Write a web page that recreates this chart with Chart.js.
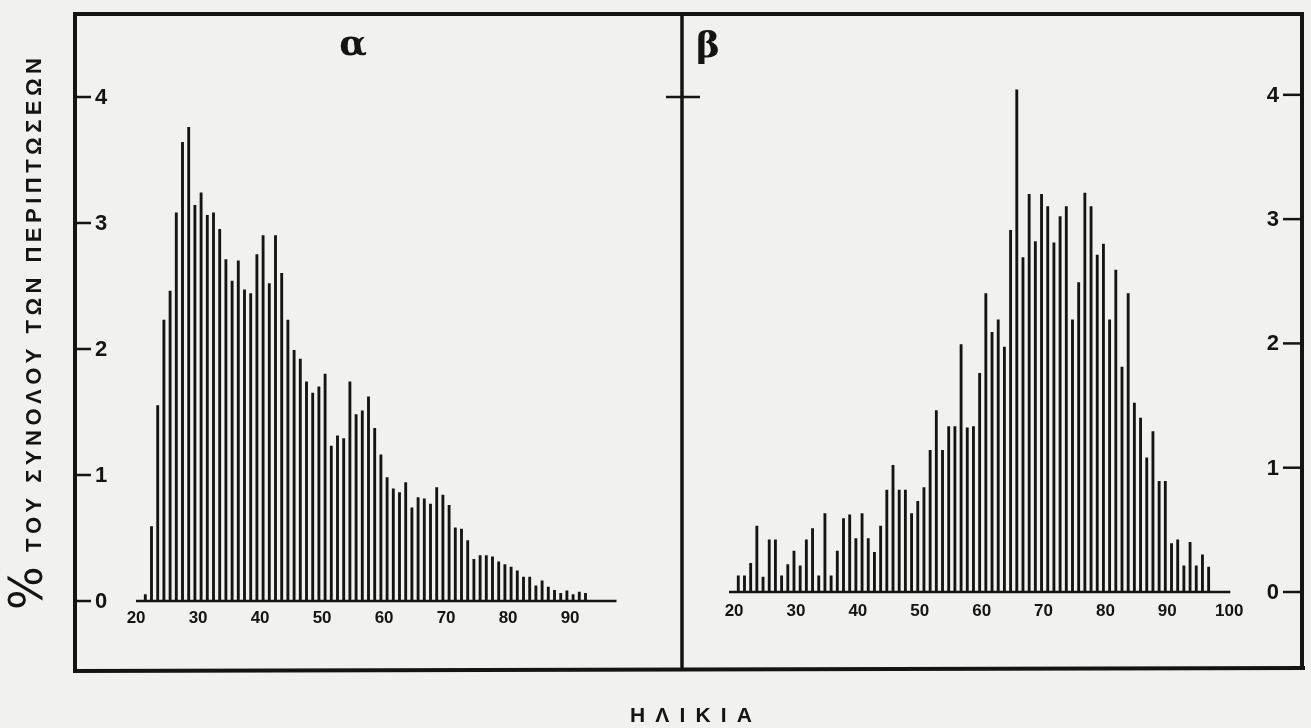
<!DOCTYPE html>
<html>
<head>
<meta charset="utf-8">
<script src="https://cdn.jsdelivr.net/npm/chart.js@4.4.1/dist/chart.umd.min.js"></script>
<style>
html,body{margin:0;padding:0;background:#f1f1ef;}
#wrap{position:relative;width:1311px;height:728px;overflow:hidden;background:#f1f1ef;}
canvas{position:absolute;left:0;top:0;}
</style>
</head>
<body>
<div id="wrap">
<canvas id="ca" width="1311" height="728"></canvas>
<canvas id="cb" width="1311" height="728"></canvas>
</div>
<script>
// ---- Data ----
const agesA = [21,22,23,24,25,26,27,28,29,30,31,32,33,34,35,36,37,38,39,40,41,42,43,44,45,46,47,48,49,50,
  51,52,53,54,55,56,57,58,59,60,61,62,63,64,65,66,67,68,69,70,71,72,73,74,75,76,77,78,79,80,
  81,82,83,84,85,86,87,88,89,90,91,92];
const valuesA = [0.05,0.59,1.55,2.23,2.46,3.08,3.64,3.76,3.14,3.24,3.06,3.08,2.95,2.71,2.54,2.70,2.47,2.44,2.75,2.90,
  2.52,2.90,2.60,2.23,1.99,1.92,1.74,1.65,1.70,1.80,1.23,1.31,1.29,1.74,1.48,1.51,1.62,1.37,1.16,0.98,
  0.89,0.86,0.94,0.74,0.82,0.81,0.77,0.90,0.84,0.76,0.58,0.57,0.48,0.33,0.36,0.36,0.35,0.31,0.29,0.27,
  0.24,0.19,0.19,0.12,0.16,0.11,0.085,0.06,0.08,0.05,0.07,0.06];

const agesB = [21,22,23,24,25,26,27,28,29,30,31,32,33,34,35,36,37,38,39,40,41,42,43,44,45,46,47,48,49,50,
  51,52,53,54,55,56,57,58,59,60,61,62,63,64,65,66,67,68,69,70,71,72,73,74,75,76,77,78,79,80,
  81,82,83,84,85,86,87,88,89,90,91,92,93,94,95,96,97];
const valuesB = [0.13,0.13,0.23,0.53,0.12,0.42,0.42,0.13,0.22,0.33,0.21,0.42,0.51,0.13,0.63,0.13,0.33,0.59,0.62,0.43,
  0.63,0.43,0.32,0.53,0.82,1.02,0.82,0.82,0.63,0.73,0.84,1.14,1.46,1.14,1.33,1.33,1.99,1.32,1.33,1.76,
  2.40,2.09,2.19,1.97,2.91,4.04,2.69,3.20,2.82,3.20,3.10,2.81,3.02,3.10,2.19,2.49,3.21,3.10,2.71,2.80,
  2.19,2.59,1.81,2.40,1.52,1.40,1.08,1.29,0.89,0.89,0.39,0.42,0.21,0.40,0.21,0.30,0.20];

const xTicksA = [20,30,40,50,60,70,80,90];
const xTicksB = [20,30,40,50,60,70,80,90,100];
const yTicks = [0,1,2,3,4];

const panelLetterA = "α";
const panelLetterB = "β";
const yTitlePct = "%";
const yTitle = "ΤΟΥ ΣΥΝΟΛΟΥ ΤΩΝ ΠΕΡΙΠΤΩΣΕΩΝ";
const xTitle = "ΗΛΙΚΙΑ";

const INK = "#141414";
const tickFont = 'bold 17px "Liberation Sans", Arial, sans-serif';
const yTickFont = 'bold 22px "Liberation Sans", Arial, sans-serif';

function spacedText(ctx, text, x0, x1, y) {
  const chars = [...text];
  const w = chars.map(c => ctx.measureText(c).width);
  const total = w.reduce((a, b) => a + b, 0);
  const gap = (x1 - x0 - total) / (chars.length - 1);
  let x = x0;
  chars.forEach((c, i) => { ctx.fillText(c, x, y); x += w[i] + gap; });
}

const decorA = {
  id: 'decorA',
  afterDraw(chart) {
    const ctx = chart.ctx, xs = chart.scales.x, ys = chart.scales.y;
    ctx.save();
    ctx.strokeStyle = INK; ctx.fillStyle = INK;
    // frame
    ctx.lineWidth = 4;
    ctx.beginPath();
    ctx.moveTo(75, 14); ctx.lineTo(1303, 14);
    ctx.moveTo(75, 12); ctx.lineTo(75, 672);
    ctx.moveTo(73, 671); ctx.lineTo(1305, 668);
    ctx.moveTo(1302, 12); ctx.lineTo(1302, 670);
    ctx.stroke();
    ctx.lineWidth = 3.5;
    ctx.beginPath(); ctx.moveTo(682, 14); ctx.lineTo(682, 670); ctx.stroke();
    // small cross tick on divider at level 4
    ctx.lineWidth = 2.5;
    const y4 = ys.getPixelForValue(4);
    ctx.beginPath(); ctx.moveTo(666, y4); ctx.lineTo(700, y4); ctx.stroke();
    // baseline
    const y0 = ys.getPixelForValue(0);
    ctx.lineWidth = 2.5;
    ctx.beginPath(); ctx.moveTo(xs.getPixelForValue(xs.min), y0); ctx.lineTo(xs.getPixelForValue(xs.max), y0); ctx.stroke();
    // x tick labels
    ctx.font = tickFont; ctx.textAlign = 'center'; ctx.textBaseline = 'middle';
    xTicksA.forEach(t => ctx.fillText(String(t), xs.getPixelForValue(t) - 3, y0 + 17));
    // y ticks on left axis
    ctx.font = yTickFont; ctx.textAlign = 'left';
    yTicks.forEach(v => {
      const y = ys.getPixelForValue(v);
      ctx.lineWidth = 2.5;
      ctx.beginPath(); ctx.moveTo(75, y); ctx.lineTo(91, y); ctx.stroke();
      ctx.fillText(String(v), 95, y + 1);
    });
    // panel letter
    ctx.font = 'bold 36px "DejaVu Serif", serif'; ctx.textAlign = 'center';
    ctx.fillText(panelLetterA, 353, 46);
    // y title (rotated)
    ctx.save();
    ctx.translate(33, 0);
    ctx.rotate(-Math.PI / 2);
    ctx.textAlign = 'left'; ctx.textBaseline = 'middle';
    ctx.font = '46px "DejaVu Sans", sans-serif';
    ctx.fillText(yTitlePct, -610, -3);
    ctx.font = 'bold 22px "Liberation Sans", Arial, sans-serif';
    spacedText(ctx, yTitle, -552, -58, 2);
    ctx.restore();
    // x title
    ctx.font = 'bold 21px "Liberation Sans", Arial, sans-serif';
    ctx.textAlign = 'left';
    spacedText(ctx, xTitle, 630, 752, 716);
    ctx.restore();
  }
};

const decorB = {
  id: 'decorB',
  afterDraw(chart) {
    const ctx = chart.ctx, xs = chart.scales.x, ys = chart.scales.y;
    ctx.save();
    ctx.strokeStyle = INK; ctx.fillStyle = INK;
    const y0 = ys.getPixelForValue(0);
    ctx.lineWidth = 2.5;
    ctx.beginPath(); ctx.moveTo(xs.getPixelForValue(xs.min), y0); ctx.lineTo(xs.getPixelForValue(xs.max), y0); ctx.stroke();
    ctx.font = tickFont; ctx.textAlign = 'center'; ctx.textBaseline = 'middle';
    xTicksB.forEach(t => ctx.fillText(String(t), xs.getPixelForValue(t) + 2, y0 + 19));
    ctx.font = yTickFont; ctx.textAlign = 'right';
    yTicks.forEach(v => {
      const y = ys.getPixelForValue(v);
      ctx.lineWidth = 2.5;
      ctx.beginPath(); ctx.moveTo(1283, y); ctx.lineTo(1302, y); ctx.stroke();
      ctx.fillText(String(v), 1279, y + 1);
    });
    ctx.font = 'bold 36px "DejaVu Serif", serif'; ctx.textAlign = 'center';
    ctx.fillText(panelLetterB, 708, 48);
    ctx.restore();
  }
};

function makeChart(id, ages, vals, pad, xmin, xmax, plugin) {
  return new Chart(document.getElementById(id), {
    type: 'bar',
    data: { datasets: [{
      data: ages.map((a, i) => ({ x: a, y: vals[i] })),
      backgroundColor: INK, borderWidth: 0, barThickness: 2.2
    }]},
    options: {
      responsive: false, animation: false, devicePixelRatio: 1,
      layout: { padding: pad },
      scales: {
        x: { type: 'linear', min: xmin, max: xmax, display: false, offset: false },
        y: { min: 0, max: 4.1, display: false }
      },
      plugins: { legend: { display: false }, tooltip: { enabled: false } }
    },
    plugins: [plugin]
  });
}

// left panel: age 19.5 -> x 136, age 97 -> x 616.5; value 0 -> y 601, 4.1 -> y 84.4
makeChart('ca', agesA, valuesA, { left: 136, right: 694.5, top: 84.4, bottom: 127 }, 19.5, 97, decorA);
// right panel: age 19.5 -> x 729, age 100.5 -> x 1230.3; value 0 -> y 592, 4.1 -> y 82.4
makeChart('cb', agesB, valuesB, { left: 729, right: 80.7, top: 82.4, bottom: 136 }, 19.5, 100.5, decorB);
</script>
</body>
</html>
